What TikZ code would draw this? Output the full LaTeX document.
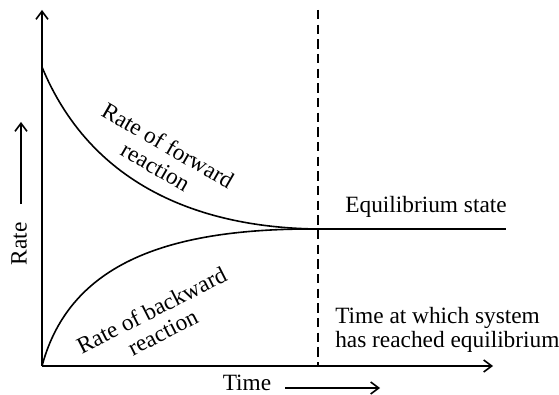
\documentclass[tikz,border=0pt]{standalone}
\usepackage{fontspec}
\setmainfont{Liberation Serif}
\usetikzlibrary{arrows.meta}

\begin{document}
\begin{tikzpicture}[x=0.75pt,y=0.75pt,yscale=-1,xscale=1,
  axis/.style={line width=1.4pt,-{Straight Barb[length=6pt,width=9pt,line width=1.2pt]}},
  curve/.style={line width=1.2pt},
  lbl/.style={font=\fontsize{17.5}{18.5}\selectfont,inner sep=0pt}]
\useasboundingbox (0,0) rectangle (559,395);

% Points
\coordinate (O) at (42,366);
\coordinate (ytip) at (42,10);
\coordinate (xtip) at (493,366);
\coordinate (fstart) at (42,67);
\coordinate (eq) at (318,229);
\coordinate (eqend) at (506,229);
\coordinate (dtop) at (318,10);
\coordinate (dbot) at (318,366);

%Axes
\draw [axis] (O) -- (ytip) ;
\draw [axis] (O) -- (xtip) ;
%Dashed line
\draw [line width=1.2pt,dash pattern=on 7pt off 4pt] (dtop) -- (dbot) ;
%Curve Lines
\draw [curve] (fstart) .. controls (95,195) and (215,228) .. (eq) ;
\draw [curve] (O) .. controls (70,262) and (170,228) .. (eq) ;
\draw [line width=1.8pt] (eq) -- (eqend) ;

% Text Node
\node [lbl] (eqlabel) at (426,207) {Equilibrium state};
% Text Node
\node [lbl,anchor=west,align=left] (tlabel) at (335,330) {Time at which system\\has reached equilibrium};
% Text Node
\node [lbl,rotate=-30,align=center] (flabel) at (162,156) {Rate of forward\\reaction};
% Text Node
\node [lbl,rotate=27,align=center] (blabel) at (157,321) {Rate of backward\\reaction};
% Text Node
\node [lbl] (time) at (247,383) {Time};
\coordinate (ta) at (285,388);
\coordinate (tb) at (380,388);
\draw [axis] (ta) -- (tb) ;
% Text Node
\node [lbl,rotate=90] (rate) at (19,244) {Rate};
\coordinate (ra) at (21,204);
\coordinate (rb) at (21,122);
\draw [axis] (ra) -- (rb) ;

\end{tikzpicture}
\end{document}
